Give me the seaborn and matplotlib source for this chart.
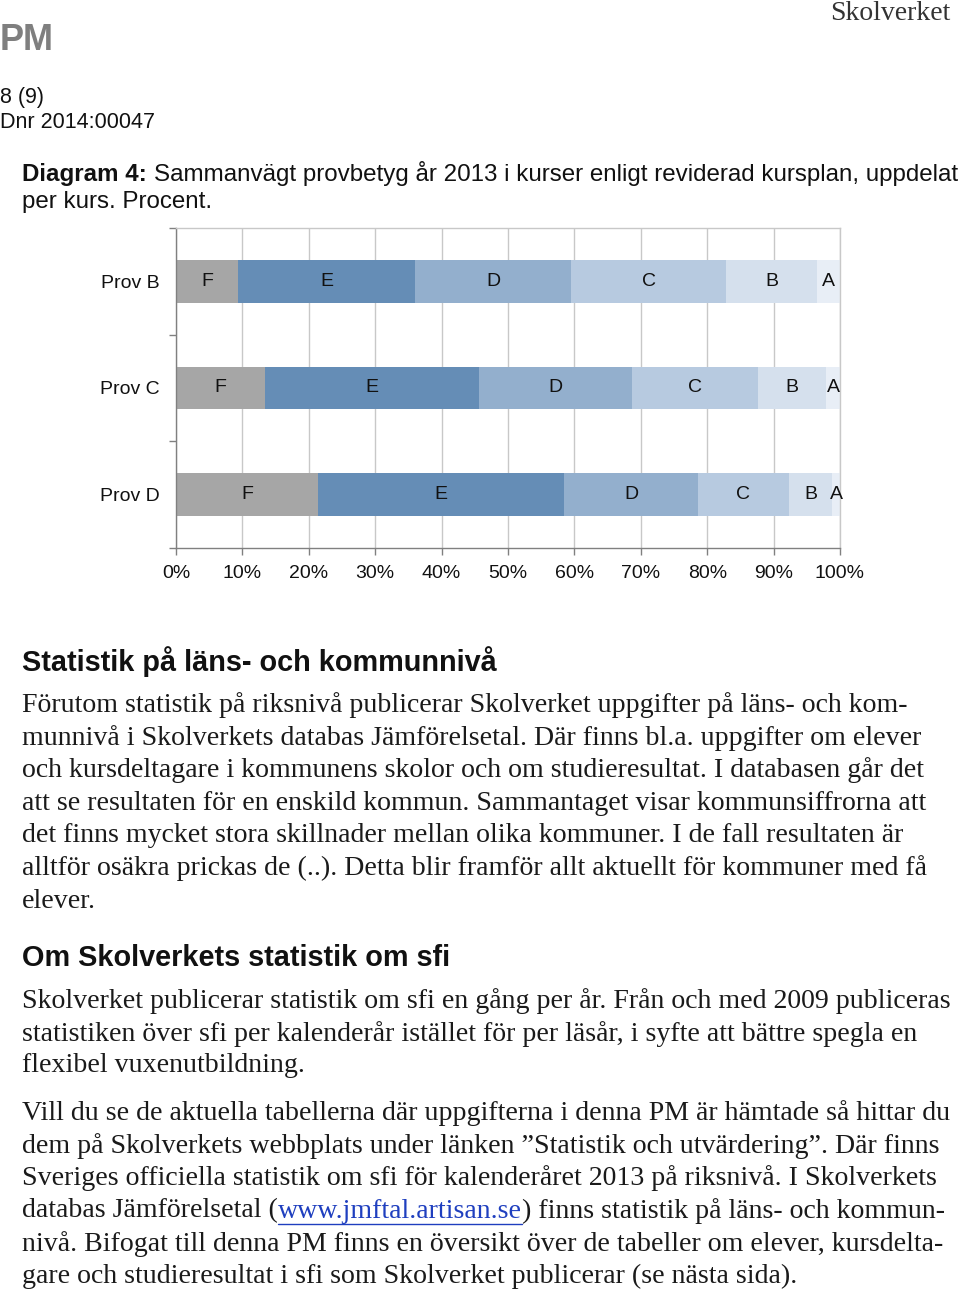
import numpy as np
import pandas as pd
import matplotlib
matplotlib.use("Agg")
import matplotlib.pyplot as plt
from matplotlib.lines import Line2D
import seaborn as sns

# ---------------- data ----------------
courses = ["Prov B", "Prov C", "Prov D"]
grades = ["F", "E", "D", "C", "B", "A"]
pct_F = [9.3, 13.4, 21.4]
pct_E = [26.7, 32.2, 37.1]
pct_D = [23.5, 23.0, 20.1]
pct_C = [23.4, 19.1, 13.7]
pct_B = [13.7, 10.2, 6.5]
pct_A = [3.4, 2.1, 1.2]
xtick_values = list(range(0, 101, 10))
xtick_labels = [f"{v}%" for v in xtick_values]

grade_colors = {"F": "#a6a6a6", "E": "#658db6", "D": "#93afcd",
                "C": "#b7cae0", "B": "#d5e0ed", "A": "#e8eef6"}

series = {"F": pct_F, "E": pct_E, "D": pct_D, "C": pct_C, "B": pct_B, "A": pct_A}
rows = []
for g in grades:
    for c, v in zip(courses, series[g]):
        rows.append({"course": c, "grade": g, "pct": v})
df = pd.DataFrame(rows)
df["grade"] = pd.Categorical(df["grade"], categories=grades, ordered=True)
df = df.sort_values(["course", "grade"])
df["cum"] = df.groupby("course")["pct"].cumsum()
df["left"] = df["cum"] - df["pct"]

# ---------------- figure ----------------
W, H = 960, 1294
sns.set_theme(style="white")
plt.rcParams["font.family"] = ["Liberation Sans", "DejaVu Sans"]
fig = plt.figure(figsize=(W / 100, H / 100), dpi=100)
fig.patch.set_facecolor("white")
renderer = fig.canvas.get_renderer()

def fxy(x, y):
    return x / W, 1 - y / H

# chart axes
ax = fig.add_axes([176 / W, 1 - 548 / H, 664 / W, 320 / H])
for g in reversed(grades):
    sub = df[df["grade"] == g]
    sns.barplot(data=sub, x="cum", y="course", order=courses, orient="h",
                color=grade_colors[g], saturation=1, width=0.4,
                errorbar=None, linewidth=0, ax=ax)

for i, c in enumerate(courses):
    sub = df[df["course"] == c]
    for _, r in sub.iterrows():
        ax.text(r["left"] + r["pct"] / 2, i, r["grade"], ha="center", va="center",
                fontsize=14, color="#111111", family="Liberation Sans")

ax.set_xlim(0, 100)
ax.set_ylim(2.5, -0.5)
ax.set_xticks(xtick_values)
ax.set_xticklabels(xtick_labels, fontsize=14, color="#111111")
ax.set_yticks(range(len(courses)))
ax.set_yticklabels(courses, fontsize=14, color="#111111")
ax.set_yticks([-0.5, 0.5, 1.5, 2.5], minor=True)
ax.set_xlabel("")
ax.set_ylabel("")
ax.set_axisbelow(True)
ax.xaxis.grid(True, color="#c8c8c8", linewidth=1)
ax.yaxis.grid(False)
ax.tick_params(axis="x", which="major", direction="out", length=5, width=1,
               color="#808080", pad=7, bottom=True)
ax.tick_params(axis="y", which="major", length=0, pad=11.5)
ax.tick_params(axis="y", which="minor", direction="out", length=5, width=1,
               color="#808080", left=True)
for s in ["left", "bottom"]:
    ax.spines[s].set_color("#808080")
    ax.spines[s].set_linewidth(1)
for s in ["top", "right"]:
    ax.spines[s].set_color("#c8c8c8")
    ax.spines[s].set_linewidth(1)

# ---------------- page text ----------------
SANS = "Liberation Sans"
SERIF = "Liberation Serif"

def text_width(s, **kw):
    t = fig.text(0, 0, s, **kw)
    w = t.get_window_extent(renderer).width
    t.remove()
    return w

def fit_size(parts, target):
    base = 20.0
    w = sum(text_width(s, fontsize=base, **kw) for s, kw in parts)
    return base * target / w

def chain(x, y, parts, size, color="#1a1a1a"):
    out = []
    for s, kw in parts:
        kw2 = dict(kw)
        col = kw2.pop("color", color)
        t = fig.text(*fxy(x, y), s, ha="left", va="center", fontsize=size,
                     color=col, **kw2)
        w = t.get_window_extent(renderer).width
        out.append((x, x + w))
        x += w
    return out

# header
fig.text(*fxy(0, 41), "PM", ha="left", va="center", fontsize=26,
         fontweight="bold", color="#7f7f7f", family=SANS)
fig.text(*fxy(950, 14), "Skolverket", ha="right", va="center", fontsize=20,
         color="#333333", family=SERIF)
fig.text(*fxy(0, 98), "8 (9)", ha="left", va="center", fontsize=15.5,
         color="#111111", family=SANS)
fig.text(*fxy(0, 123), "Dnr 2014:00047", ha="left", va="center", fontsize=15.5,
         color="#111111", family=SANS)

# caption
cap1 = [("Diagram 4: ", {"family": SANS, "fontweight": "bold"}),
        ("Sammanvägt provbetyg år 2013 i kurser enligt reviderad kursplan, uppdelat",
         {"family": SANS})]
cap_size = fit_size(cap1, 936)
chain(22, 174, cap1, cap_size, color="#111111")
chain(22, 202, [("per kurs. Procent.", {"family": SANS})], cap_size, color="#111111")

# headings
h1 = "Statistik på läns- och kommunnivå"
h_size = fit_size([(h1, {"family": SANS, "fontweight": "bold"})], 475)
fig.text(*fxy(22, 662), h1, ha="left", va="center", fontsize=h_size,
         fontweight="bold", family=SANS, color="#111111")
fig.text(*fxy(22, 958), "Om Skolverkets statistik om sfi", ha="left", va="center",
         fontsize=h_size, fontweight="bold", family=SANS, color="#111111")

# body
body_size = fit_size([("Förutom statistik på riksnivå publicerar Skolverket uppgifter på läns- och kom-",
                       {"family": SERIF})], 886)
para_lines = [
    (705, "Förutom statistik på riksnivå publicerar Skolverket uppgifter på läns- och kom-"),
    (738, "munnivå i Skolverkets databas Jämförelsetal. Där finns bl.a. uppgifter om elever"),
    (770, "och kursdeltagare i kommunens skolor och om studieresultat. I databasen går det"),
    (803, "att se resultaten för en enskild kommun. Sammantaget visar kommunsiffrorna att"),
    (836, "det finns mycket stora skillnader mellan olika kommuner. I de fall resultaten är"),
    (868, "alltför osäkra prickas de (..). Detta blir framför allt aktuellt för kommuner med få"),
    (901, "elever."),
    (1001, "Skolverket publicerar statistik om sfi en gång per år. Från och med 2009 publiceras"),
    (1034, "statistiken över sfi per kalenderår istället för per läsår, i syfte att bättre spegla en"),
    (1066, "flexibel vuxenutbildning."),
    (1113, "Vill du se de aktuella tabellerna där uppgifterna i denna PM är hämtade så hittar du"),
    (1146, "dem på Skolverkets webbplats under länken ”Statistik och utvärdering”. Där finns"),
    (1178, "Sveriges officiella statistik om sfi för kalenderåret 2013 på riksnivå. I Skolverkets"),
    (1244, "nivå. Bifogat till denna PM finns en översikt över de tabeller om elever, kursdelta-"),
    (1276, "gare och studieresultat i sfi som Skolverket publicerar (se nästa sida)."),
]
for y, s in para_lines:
    fig.text(*fxy(22, y), s, ha="left", va="center", fontsize=body_size,
             family=SERIF, color="#1a1a1a")

link_parts = [("databas Jämförelsetal (", {"family": SERIF}),
              ("www.jmftal.artisan.se", {"family": SERIF, "color": "#1f3fbf"}),
              (") finns statistik på läns- och kommun-", {"family": SERIF})]
spans = chain(22, 1211, link_parts, body_size)
x0, x1 = spans[1]
yl = 1 - 1224 / H
fig.add_artist(Line2D([x0 / W, x1 / W], [yl, yl], color="#1f3fbf", linewidth=1,
                      transform=fig.transFigure))

fig.savefig("out.png", dpi=100, facecolor="white")
